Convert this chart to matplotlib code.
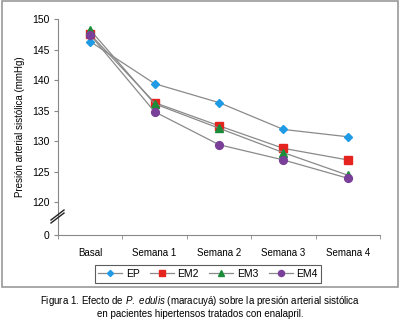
import matplotlib
matplotlib.use("Agg")
import matplotlib.pyplot as plt
from matplotlib.lines import Line2D
from matplotlib.patches import Rectangle

plt.rcParams['font.family'] = ['Liberation Sans', 'DejaVu Sans']
plt.rcParams['mathtext.fontset'] = 'custom'
plt.rcParams['mathtext.it'] = 'Liberation Sans:italic'
plt.rcParams['mathtext.rm'] = 'Liberation Sans'

categories = ["Basal", "Semana 1", "Semana 2", "Semana 3", "Semana 4"]
EP = [146.3, 139.4, 136.3, 131.9, 130.7]
EM2 = [147.5, 136.3, 132.5, 128.8, 126.9]
EM3 = [148.2, 136.1, 132.1, 128.1, 124.4]
EM4 = [147.4, 134.8, 129.4, 126.9, 123.9]
series_names = ["EP", "EM2", "EM3", "EM4"]
yticks = [114.6, 120, 125, 130, 135, 140, 145, 150]
yticklabels = ["0", "120", "125", "130", "135", "140", "145", "150"]

styles = {
    "EP": dict(marker="D", color="#1f9be6", ms=4.3),
    "EM2": dict(marker="s", color="#e5231f", ms=5.2),
    "EM3": dict(marker="^", color="#1a8c3a", ms=5.8),
    "EM4": dict(marker="o", color="#7a3f98", ms=5.6),
}

fig = plt.figure(figsize=(4.0, 3.31), dpi=100)
W, H = 400, 331
ax = fig.add_axes([58 / W, 1 - 235 / H, 322 / W, 216 / H])

x = list(range(len(categories)))
data = {"EP": EP, "EM2": EM2, "EM3": EM3, "EM4": EM4}
for name in series_names:
    st = styles[name]
    ax.plot(x, data[name], color="#8a8a8a", lw=0.9, marker=st["marker"],
            ms=st["ms"], mfc=st["color"], mec=st["color"], label=name, zorder=3)

ax.set_xlim(-0.5, len(categories) - 0.5)
ax.set_ylim(114.6, 150)
ax.set_yticks(yticks)
ax.set_yticklabels(yticklabels)
ax.set_xticks(x)
ax.set_xticklabels(categories)
ax.set_xticks([i - 0.5 for i in range(len(categories) + 1)], minor=True)
ax.tick_params(axis='x', which='major', length=0, pad=9, labelsize=7)
ax.tick_params(axis='x', which='minor', length=3, color="#888888")
ax.tick_params(axis='y', length=3, color="#888888", labelsize=7.5, pad=3)
for s in ["top", "right"]:
    ax.spines[s].set_visible(False)
for s in ["left", "bottom"]:
    ax.spines[s].set_color("#888888")
    ax.spines[s].set_linewidth(0.8)
ax.set_ylabel("Presión arterial sistólica (mmHg)", fontsize=7, labelpad=5)

# axis break mark
for dy in (0, 3):
    fig.add_artist(Line2D([51 / W, 64 / W], [1 - (223 - dy) / H, 1 - (213 - dy) / H],
                          color="#222222", lw=1.0))

# legend
handles = [Line2D([0], [0], color="#8a8a8a", lw=0.9, marker=styles[n]["marker"],
                  ms=styles[n]["ms"] - 1.2, mfc=styles[n]["color"], mec=styles[n]["color"])
           for n in series_names]
leg = fig.legend(handles, series_names, loc="center", bbox_to_anchor=(208 / W, 1 - 274 / H),
                 ncol=4, frameon=True, fancybox=False, fontsize=7.5, handlelength=2.3,
                 columnspacing=1.0, handletextpad=0.35, borderpad=0.35)
leg.get_frame().set_edgecolor("#333333")
leg.get_frame().set_linewidth(0.8)

# outer border
fig.add_artist(Rectangle((2 / W, 1 - 287 / H), 396 / W, 286 / H, fill=False,
                         edgecolor="#999999", lw=1.2, transform=fig.transFigure))

fig.text(0.5, 1 - 301 / H,
         "Figura 1. Efecto de $\\mathit{P.\\ edulis}$ (maracuyá) sobre la presión arterial sistólica",
         ha="center", va="center", fontsize=7)
fig.text(0.5, 1 - 314 / H, "en pacientes hipertensos tratados con enalapril.",
         ha="center", va="center", fontsize=7)

fig.savefig("out.png", dpi=100)
